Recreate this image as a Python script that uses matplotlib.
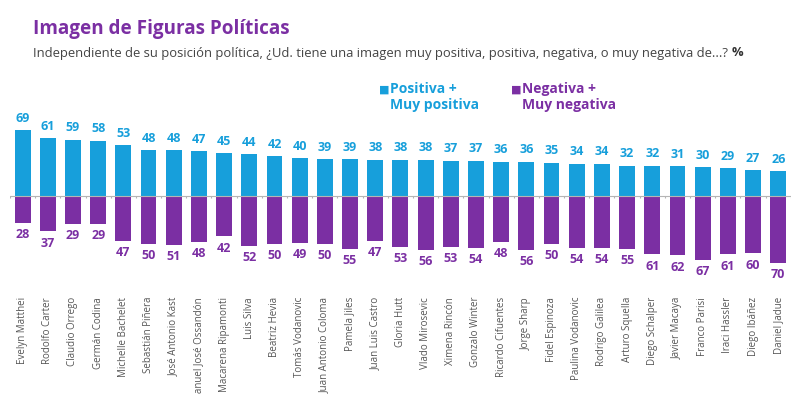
import numpy as np
import matplotlib
matplotlib.use("Agg")
import matplotlib.pyplot as plt

names = ["Evelyn Matthei", "Rodolfo Carter", "Claudio Orrego", "Germán Codina",
         "Michelle Bachelet", "Sebastián Piñera", "José Antonio Kast",
         "Manuel José Ossandón", "Macarena Ripamonti", "Luis Silva", "Beatriz Hevia",
         "Tomás Vodanovic", "Juan Antonio Coloma", "Pamela Jiles", "Juan Luis Castro",
         "Gloria Hutt", "Vlado Mirosevic", "Ximena Rincón", "Gonzalo Winter",
         "Ricardo Cifuentes", "Jorge Sharp", "Fidel Espinoza", "Paulina Vodanovic",
         "Rodrigo Galilea", "Arturo Squella", "Diego Schalper", "Javier Macaya",
         "Franco Parisi", "Iraci Hassler", "Diego Ibáñez", "Daniel Jadue"]
positiva = [69, 61, 59, 58, 53, 48, 48, 47, 45, 44, 42, 40, 39, 39, 38, 38, 38,
            37, 37, 36, 36, 35, 34, 34, 32, 32, 31, 30, 29, 27, 26]
negativa = [28, 37, 29, 29, 47, 50, 51, 48, 42, 52, 50, 49, 50, 55, 47, 53, 56,
            53, 54, 48, 56, 50, 54, 54, 55, 61, 62, 67, 61, 60, 70]

CYAN = "#179fdb"
PURPLE = "#7b2fa3"
FONT = ["Open Sans", "DejaVu Sans"]
plt.rcParams["font.family"] = FONT

fig = plt.figure(figsize=(8, 3.94), dpi=100)
ax = fig.add_axes([0.0125, 0.2766, 0.976, 0.444])

x = np.arange(len(names))
ax.bar(x, positiva, width=0.63, color=CYAN)
ax.bar(x, [-v for v in negativa], width=0.63, color=PURPLE)

# zero line with small ticks between bars
ax.axhline(0, color="#b5b5b5", lw=0.8, zorder=3)
ax.vlines(np.arange(len(names) + 1) - 0.5, -2.2, 0, color="#b5b5b5", lw=0.8, zorder=3)

for xi, p, n in zip(x, positiva, negativa):
    ax.annotate(str(p), (xi, p), xytext=(0, 8.5), textcoords="offset points",
                ha="center", va="center", color=CYAN, fontsize=9, fontweight="bold")
    ax.annotate(str(n), (xi, -n), xytext=(0, -8.5), textcoords="offset points",
                ha="center", va="center", color=PURPLE, fontsize=9, fontweight="bold")

ax.set_xlim(-0.5, len(names) - 0.5)
ax.set_ylim(-93, 90)
ax.set_yticks([])
ax.set_xticks(x)
ax.set_xticklabels(names, rotation=90, fontsize=7, color="#555555", va="top", ha="center")
ax.tick_params(axis="x", length=0, pad=8.6)
for s in ax.spines.values():
    s.set_visible(False)

fig.text(33 / 800, 1 - 29 / 394, "Imagen de Figuras Políticas", color=PURPLE,
         fontsize=13.6, fontweight="bold", va="center", ha="left")
sub = fig.text(33 / 800, 1 - 53 / 394,
               "Independiente de su posición política, ¿Ud. tiene una imagen muy positiva, "
               "positiva, negativa, o muy negativa de...? ",
               color="#444444", fontsize=9.4, va="center", ha="left")
fig.canvas.draw()
bb = sub.get_window_extent()
fig.text(bb.x1 / fig.bbox.width, 1 - 53 / 394, "%", color="#333333", fontsize=9.4,
         fontweight="bold", va="center", ha="left")

# legend
fig.text(379 / 800, 1 - 90 / 394, "■", color=CYAN, fontsize=8, va="center", ha="left",
         family=["DejaVu Sans"])
fig.text(390 / 800, 1 - 97 / 394, "Positiva +\nMuy positiva", color=CYAN, fontsize=10,
         fontweight="bold", va="center", ha="left", linespacing=1.15)
fig.text(511 / 800, 1 - 90 / 394, "■", color=PURPLE, fontsize=8, va="center", ha="left",
         family=["DejaVu Sans"])
fig.text(522 / 800, 1 - 97 / 394, "Negativa +\nMuy negativa", color=PURPLE, fontsize=10,
         fontweight="bold", va="center", ha="left", linespacing=1.15)

fig.savefig("out.png", dpi=100)
